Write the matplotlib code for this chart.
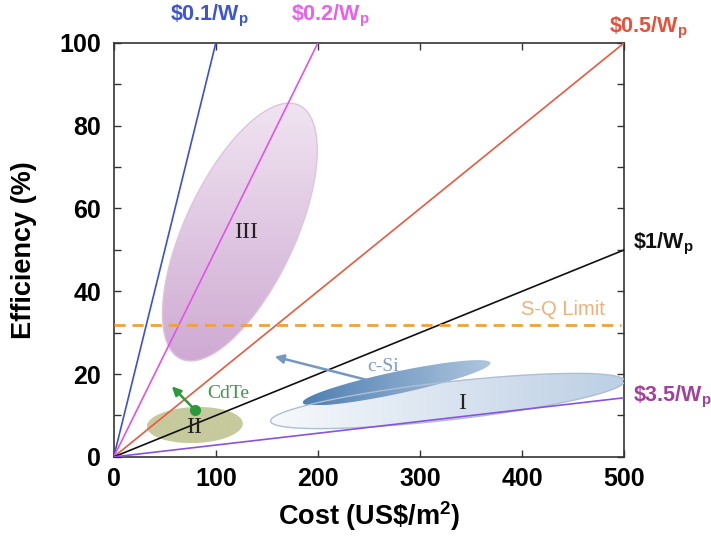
import numpy as np
import matplotlib
matplotlib.use("Agg")
import matplotlib.pyplot as plt
from matplotlib.patches import Polygon
from matplotlib.colors import LinearSegmentedColormap

plt.rcParams['font.family'] = ['Liberation Sans', 'DejaVu Sans']
plt.rcParams['mathtext.fontset'] = 'custom'
plt.rcParams['mathtext.rm'] = 'Liberation Sans'
plt.rcParams['mathtext.bf'] = 'Liberation Sans:bold'

# cost-per-watt reference lines
prices = [0.1, 0.2, 0.5, 1.0, 3.5]
price_colors = ['#3b4fd8', '#e452e8', '#ea5a40', '#111111', '#8a52e0']
price_labels = [r'\$0.1/W$_\mathbf{p}$', r'\$0.2/W$_\mathbf{p}$', r'\$0.5/W$_\mathbf{p}$',
                r'\$1/W$_\mathbf{p}$', r'\$3.5/W$_\mathbf{p}$']
label_xy = [(94, 106.5), (212, 106.5), (485, 103.5), (509, 51.5), (509, 14.5)]
label_colors = ['#3c54d6', '#ea5ef0', '#e8503a', '#111111', '#a2409c']
label_ha = ['center', 'center', 'left', 'left', 'left']

sq_limit = 31.8

# regions: name, centre x, centre y, semi-major, semi-minor (x units), angle (deg on screen)
regions = ['III', 'I', 'c-Si', 'II']
reg_cx = [123.5, 327, 277, 79.4]
reg_cy = [54.3, 13.5, 17.9, 7.7]
reg_a = [137, 174.5, 94, 47]
reg_b = [54, 18.6, 10.8, 17.6]
reg_ang = [65, 6.5, 12, 2]
reg_colors = [('#cfaad3', '#f0e4f1', 'v'), ('#f7f9fc', '#bccfe4', 'h'),
              ('#4f7fb2', '#aec5de', 'h'), ('#c6ca9c', '#c6ca9c', 'h')]
reg_edge = ['#dcc4de', '#aebfd4', 'none', 'none']

roman_xy = [(130, 54.3), (341, 13), (79, 7)]
roman_txt = ['III', 'I', 'II']

cdte_pt = (79.4, 11.4)
cdte_arrow_to = (55, 17.5)
csi_arrow_from = (251, 18.4)
csi_arrow_to = (155, 24.4)

fig = plt.figure(figsize=(7.11, 5.42), dpi=100)
ax = fig.add_axes([0.160, 0.157, 0.718, 0.764])
ax.set_xlim(0, 500)
ax.set_ylim(0, 100)

# screen aspect: pixels per y unit / pixels per x unit
k = (0.764 * 5.42 / 100) / (0.718 * 7.11 / 500)

t = np.linspace(0, 2 * np.pi, 200)
for i, name in enumerate(regions):
    th = np.deg2rad(reg_ang[i])
    ex = reg_a[i] * np.cos(t)
    ey = reg_b[i] * np.sin(t)
    X = reg_cx[i] + ex * np.cos(th) - ey * np.sin(th)
    Y = reg_cy[i] + (ex * np.sin(th) + ey * np.cos(th)) / k
    poly = Polygon(np.column_stack([X, Y]), closed=True, facecolor='none',
                   edgecolor=reg_edge[i], lw=1.0, zorder=3)
    ax.add_patch(poly)
    c0, c1, d = reg_colors[i]
    cmap = LinearSegmentedColormap.from_list(name, [c0, c1])
    grad = np.linspace(0, 1, 256)
    if d == 'v':
        img = grad[:, None] * np.ones((1, 2))
    else:
        img = grad[None, :] * np.ones((2, 1))
    im = ax.imshow(img, cmap=cmap, extent=[X.min(), X.max(), Y.min(), Y.max()],
                   origin='lower', aspect='auto', zorder=2, interpolation='bilinear')
    im.set_clip_path(poly)

ax.set_xlim(0, 500)
ax.set_ylim(0, 100)

# price lines
for p, c in zip(prices, price_colors):
    cost = np.array([0, min(500, 1000 * p)])
    ax.plot(cost, cost / (10 * p), color=c, lw=1.2, zorder=4)

for s, (x, y), c, ha in zip(price_labels, label_xy, label_colors, label_ha):
    ax.text(x, y, s, color=c, fontsize=15.5, fontweight='bold', ha=ha, va='center',
            clip_on=False)

# S-Q limit
ax.plot([0, 497], [sq_limit, sq_limit], color='#f0a236', lw=2, ls=(0, (4, 2.5)), zorder=4)
ax.text(440, sq_limit + 3.8, 'S-Q Limit', color='#f2b078', fontsize=14.5, ha='center',
        va='center', zorder=5)

for (x, y), s in zip(roman_xy, roman_txt):
    ax.text(x, y, s, fontsize=17, family='Liberation Serif', ha='center', va='center',
            color='#222222', zorder=5)

# CdTe marker and arrow
ax.annotate('', xy=cdte_arrow_to, xytext=cdte_pt,
            arrowprops=dict(arrowstyle='-|>', color='#2a9a3a', lw=1.8, mutation_scale=13),
            zorder=6)
ax.plot(*cdte_pt, 'o', color='#2a9a3a', ms=7, zorder=6)
ax.text(112, 15.2, 'CdTe', color='#3a9a45', fontsize=14, family='Liberation Serif',
        ha='center', va='center', zorder=6)

# c-Si arrow
ax.annotate('', xy=csi_arrow_to, xytext=csi_arrow_from,
            arrowprops=dict(arrowstyle='-|>', color='#7398c2', lw=1.8, mutation_scale=13),
            zorder=6)
ax.text(264, 21.8, 'c-Si', color='#7b9cc6', fontsize=14, family='Liberation Serif',
        ha='center', va='center', zorder=6)

ax.set_xticks(np.arange(0, 501, 100))
ax.set_yticks(np.arange(0, 101, 20))
ax.set_yticks(np.arange(10, 100, 20), minor=True)
ax.tick_params(which='both', direction='in', top=True, right=True, length=5, width=1,
               labelsize=18, color='#333333')
ax.tick_params(axis='y', pad=9)
ax.tick_params(axis='x', pad=7)
for lab in ax.get_xticklabels() + ax.get_yticklabels():
    lab.set_fontweight('bold')
for sp in ax.spines.values():
    sp.set_linewidth(1.2)
    sp.set_color('#333333')

ax.set_xlabel(r'Cost (US\$/m$^\mathbf{2}$)', fontsize=19.5, fontweight='bold', labelpad=6)
ax.set_ylabel('Efficiency (%)', fontsize=19.5, fontweight='bold', labelpad=16)

fig.savefig('out.png', dpi=100)
